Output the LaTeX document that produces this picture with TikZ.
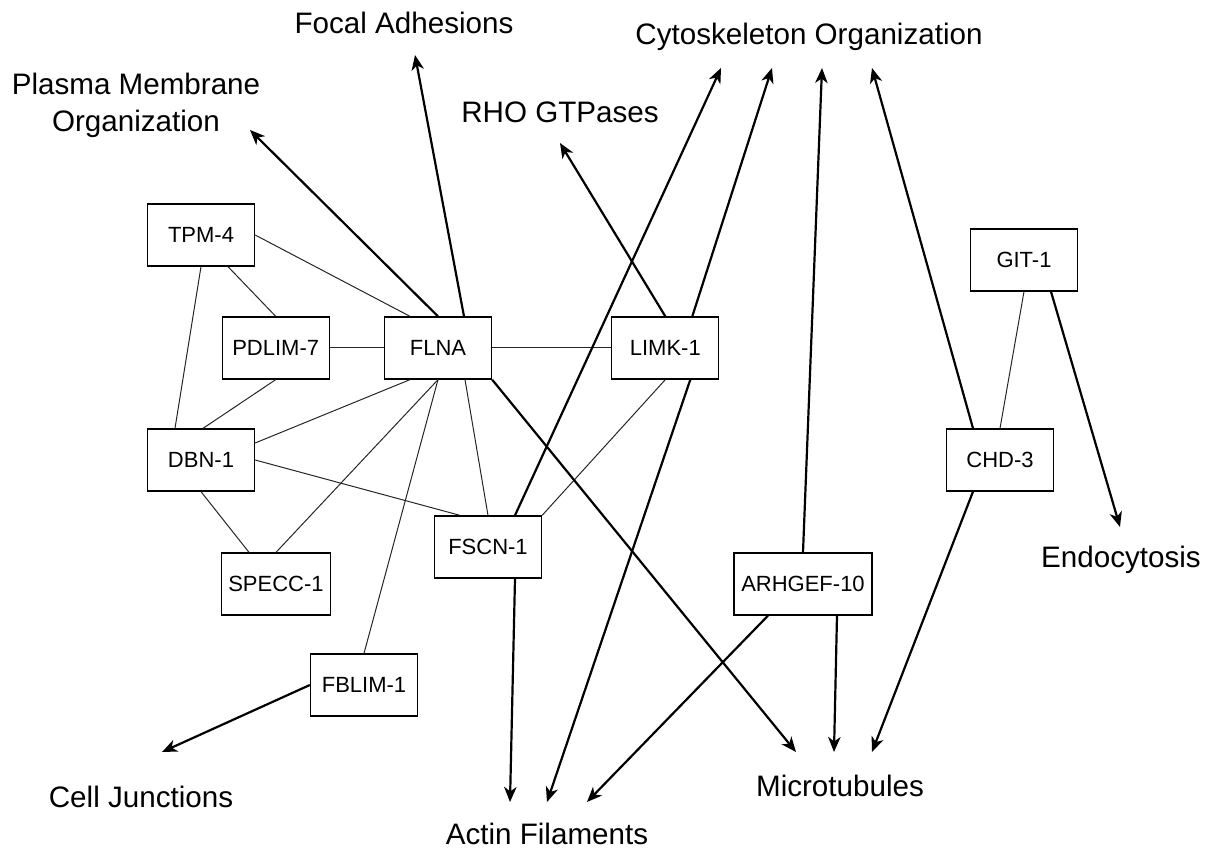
\documentclass[tikz,border=0pt]{standalone}
\usepackage{fontspec}
\setmainfont{Liberation Sans}
\usetikzlibrary{arrows.meta,calc,positioning}
\tikzset{
	gene/.style={
		rectangle,
		draw=black,
		line width=0.65pt,
		fill=white,
		minimum width=53.5pt,
		minimum height=31pt,
		font=\fontsize{11}{13}\selectfont
	},
	term/.style={
		align=center,
		font=\fontsize{14.8}{18.5}\selectfont
	},
	link/.style={
		draw=black!85,
		line width=0.5pt
	},
	arrow/.style={
		draw=black,
		line width=1.1pt,
		-{Stealth[length=7.5pt,width=6.2pt,inset=2.2pt]}
	},
}

\begin{document}
\begin{tikzpicture}[x=0.5pt,y=-0.5pt]
				\useasboundingbox (0,0) rectangle (1212,850);
				% genes
				\node [gene] (FLNA) at (438,348) {FLNA};
				\node [gene] (PDLIM) [left=27pt of FLNA] {PDLIM-7};
				\node [gene] (LIMK) [right=59.5pt of FLNA] {LIMK-1};
				\node [gene] (TPM) at (201,235) {TPM-4};
				\node [gene] (DBN) at (201,460) {DBN-1};
				\node [gene] (SPECC) at (276,584) {SPECC-1};
				\node [gene] (FSCN) at (488,547) {FSCN-1};
				\node [gene] (FBLIM) at (364,685) {FBLIM-1};
				\node [gene,minimum width=69pt] (ARHGEF) at (803,584) {ARHGEF-10};
				\node [gene] (GIT) at (1024,260) {GIT-1};
				\node [gene] (CHD) at (1000,460) {CHD-3};
				
				% terms
				\node [term] (plasma) at (136,105) {Plasma Membrane\\Organization};
				\node [term] (focal) at (404,23) {Focal Adhesions};
				\node [term] (rho) at (560,112) {RHO GTPases};
				\node [term] (cyto) at (809,37) {Cytoskeleton Organization};
				\node [term] (endo) at (1121,560) {Endocytosis};
				\node [term] (junct) at (141,797) {Cell Junctions};
				\node [term] (micro) at (840,786) {Microtubules};
				\node [term] (actin) at (547,834) {Actin Filaments};
				
				% interactions
				\path
				(TPM.east) edge[link] ($(FLNA.north)+(-28,0)$)
				($(TPM.south)+(27,0)$) edge[link] (PDLIM.north)
				(TPM.south) edge[link] ($(DBN.north)+(-26,0)$)
				(PDLIM.east) edge[link] (FLNA.west)
				(PDLIM.south) edge[link] ($(DBN.north)+(2,0)$)
				(FLNA.east) edge[link] (LIMK.west)
				($(FLNA.south)+(-28,0)$) edge[link] ($(DBN.east)+(0,-17)$)
				(FLNA.south) edge[link] (SPECC.north)
				(FLNA.south) edge[link] (FBLIM.north)
				($(FLNA.south)+(27,0)$) edge[link] (FSCN.north)
				(DBN.east) edge[link] ($(FSCN.north)+(-28,0)$)
				(DBN.south) edge[link] ($(SPECC.north)+(-27,0)$)
				(LIMK.south) edge[link] (FSCN.north east)
				(GIT.south) edge[link] (CHD.north)
				;
				
				% annotations
				\path
				(FLNA.north) edge[arrow] ($(plasma)+(114,25)$)
				($(FLNA.north)+(26,0)$) edge[arrow] ($(focal)+(11,32)$)
				(LIMK.north) edge[arrow] ($(rho)+(0,31)$)
				($(LIMK.north)+(27,0)$) edge[arrow] ($(cyto)+(-37,31)$)
				($(FSCN.north)+(27,0)$) edge[arrow] ($(cyto)+(-88,31)$)
				(ARHGEF.north) edge[arrow] ($(cyto)+(13,31)$)
				($(CHD.north)+(-27,0)$) edge[arrow] ($(cyto)+(63,31)$)
				(FLNA.south east) edge[arrow] ($(micro)+(-44,-34)$)
				($(ARHGEF.south)+(34,0)$) edge[arrow] ($(micro)+(-6,-34)$)
				($(CHD.south)+(-27,0)$) edge[arrow] ($(micro)+(32,-34)$)
				($(FSCN.south)+(27,0)$) edge[arrow] ($(actin)+(-37,-32)$)
				($(LIMK.south)+(25,0)$) edge[arrow] ($(actin)+(0,-32)$)
				($(ARHGEF.south)+(-35,0)$) edge[arrow] ($(actin)+(40,-32)$)
				($(GIT.south)+(27,0)$) edge[arrow] ($(endo)+(-1,-33)$)
				(FBLIM.west) edge[arrow] ($(junct)+(21,-45)$)
				;
\end{tikzpicture}
\end{document}
